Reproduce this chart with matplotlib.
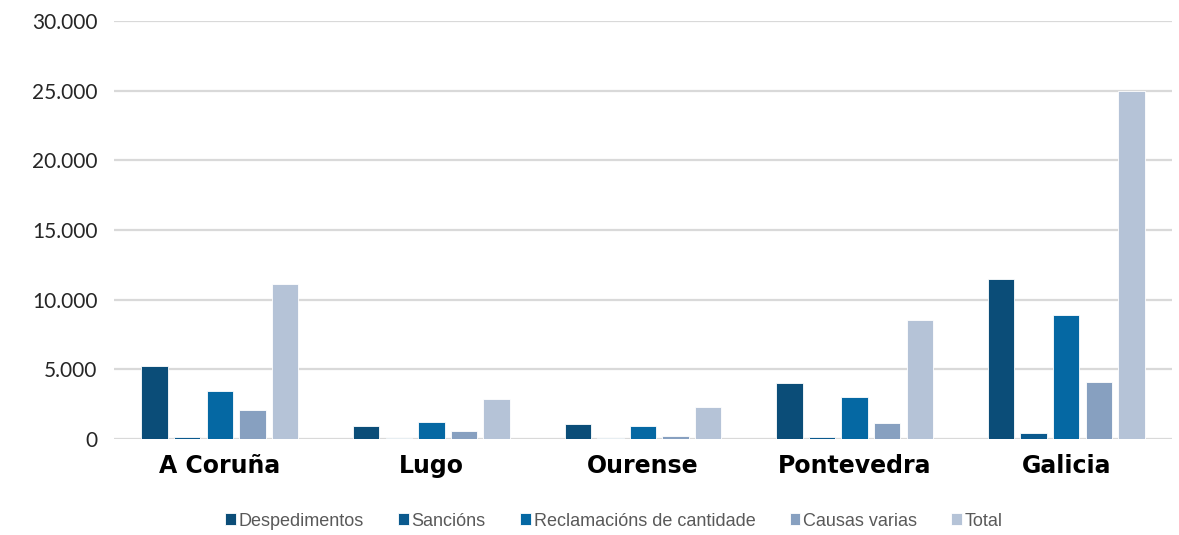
import numpy as np
import matplotlib
matplotlib.use('Agg')
import matplotlib.pyplot as plt
from matplotlib.ticker import FuncFormatter

# ── Data ──────────────────────────────────────────────────────────────────────
provinces = ["A Coruña", "Lugo", "Ourense", "Pontevedra", "Galicia"]
series_names = ["Despedimentos", "Sancións", "Reclamacións de cantidade",
                "Causas varias", "Total"]
despedimentos = [5250, 960, 1050, 4000, 11500]
sancions      = [150, 50, 50, 170, 460]
reclamacions  = [3460, 1220, 950, 3050, 8920]
causas_varias = [2090, 550, 200, 1130, 4100]
total         = [11120, 2860, 2300, 8530, 25000]

colors = ['#0B4D78', '#0B5A8E', '#0568A3', '#87A0C0', '#B5C3D7']

values = [despedimentos, sancions, reclamacions, causas_varias, total]

# ── Plot ──────────────────────────────────────────────────────────────────────
fig = plt.figure(figsize=(11.79, 5.35), dpi=100)
ax = fig.add_axes([114/1179, 1 - 439/535, (1172-114)/1179, (439-21)/535])

x = np.arange(len(provinces))
step = 0.154; w = 0.125
for i, (name, vals, c) in enumerate(zip(series_names, values, colors)):
    ax.bar(x + (i - 2) * step, vals, w, color=c, label=name,
           edgecolor='white', linewidth=0.6, zorder=3)

ax.set_xlim(-0.5, 4.5)
ax.set_ylim(0, 30000)
ax.set_yticks(np.arange(0, 30001, 5000))
ax.yaxis.set_major_formatter(FuncFormatter(lambda v, p: f"{int(v):,}".replace(',', '.')))
ax.grid(axis='y', color='#D9D9D9', linewidth=1.6, zorder=0)
for s in ax.spines.values():
    s.set_visible(False)
ax.tick_params(axis='both', length=0)
ax.tick_params(axis='y', labelsize=15, labelcolor='#262626', pad=12)
for t in ax.get_yticklabels():
    t.set_family('Lato')

ax.set_xticks(x)
ax.set_xticklabels(provinces, fontsize=17, fontweight='bold', family='DejaVu Sans')
ax.tick_params(axis='x', pad=11, labelcolor='black')

handles, labels = ax.get_legend_handles_labels()
leg = fig.legend(handles, labels, loc='center',
                 bbox_to_anchor=(614/1179, 1 - 521/535), ncol=5,
                 frameon=False, handlelength=0.6, handleheight=0.6,
                 handletextpad=0.15, columnspacing=1.9,
                 prop={'family': 'Liberation Sans', 'size': 13})
for t in leg.get_texts():
    t.set_color('#595959')

fig.savefig('out.png', dpi=100)
